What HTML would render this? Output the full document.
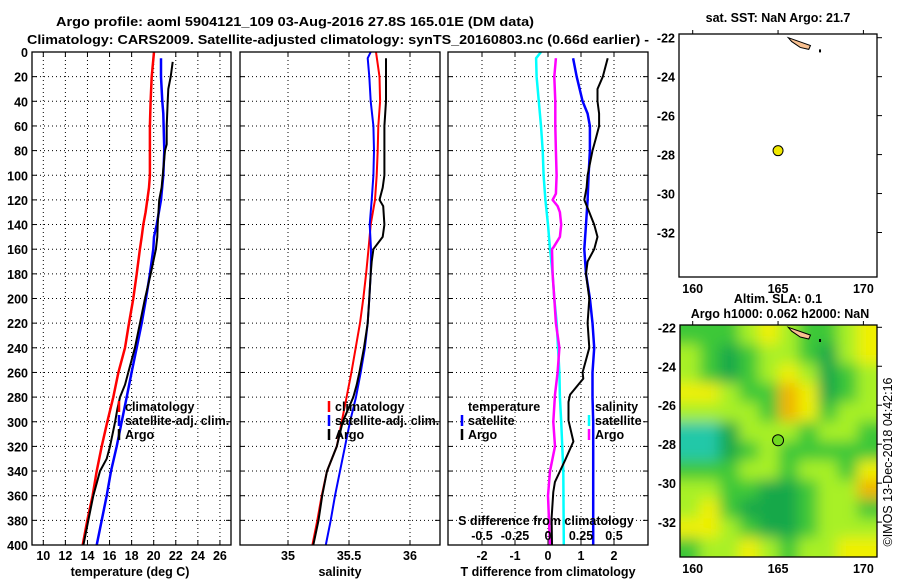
<!DOCTYPE html>
<html><head><meta charset="utf-8"><style>
body{margin:0;background:#fff;}
svg{display:block;font-family:"Liberation Sans",sans-serif;}
text{font-size:12.5px;font-weight:bold;fill:#000;}
</style></head><body>
<svg id="c" width="900" height="580" viewBox="0 0 900 580"></svg>
<script>
// ---- data ----
const tDepth = [0,20,40,60,100,110,120,130,140,150,160,180,200,220,240,260,280,300,320,340,360,380,400];
const tClim  = [20.03,19.82,19.72,19.66,19.66,19.57,19.42,19.27,19.06,18.91,18.75,18.46,18.15,17.76,17.4,16.8,16.34,15.8,15.29,14.84,14.47,13.99,13.57];
const tSatDepth = [5,20,40,50,80,100,120,140,150,160,180,200,220,240,260,280,300,320,340,360,380,400];
const tSat   = [20.66,20.66,20.78,20.87,20.96,20.87,20.66,20.27,20.03,19.96,19.66,19.3,18.91,18.46,18.0,17.55,17.1,16.65,16.13,15.74,15.29,14.84];
const tArgoDepth = [8,20,30,40,60,75,80,95,110,120,140,150,160,180,200,220,240,260,270,280,290,300,320,330,340,360,380,400];
const tArgo  = [21.72,21.54,21.32,21.27,21.18,21.18,21.02,20.87,20.72,20.5,20.36,20.33,20.2,19.73,19.21,18.76,18.3,17.7,17.4,16.95,16.7,16.5,16.04,15.74,15.14,14.53,14.08,13.63];

const sDepth = [0,20,40,60,80,100,120,140,160,180,200,220,240,260,280,300,320,340,360,380,400];
const sClim  = [35.721,35.75,35.755,35.74,35.735,35.727,35.713,35.678,35.66,35.64,35.617,35.59,35.555,35.52,35.48,35.44,35.4,35.32,35.276,35.24,35.2];
const sSatDepth = [0,5,20,40,60,80,100,120,140,160,180,200,220,240,260,280,300,320,340,360,380,400];
const sSat   = [35.678,35.653,35.666,35.678,35.7,35.705,35.7,35.686,35.67,35.68,35.678,35.666,35.653,35.63,35.596,35.557,35.508,35.467,35.426,35.385,35.35,35.31];
const sArgoDepth = [5,40,60,100,110,120,125,140,150,160,170,180,200,220,240,260,270,280,300,320,340,360,380,400];
const sArgo  = [35.803,35.803,35.79,35.79,35.776,35.75,35.78,35.79,35.776,35.7,35.686,35.678,35.666,35.653,35.623,35.585,35.563,35.535,35.448,35.4,35.32,35.28,35.25,35.207];

const dTSatDepth = [5,20,40,50,60,80,100,120,140,160,180,200,220,240,260,280,300,340,400];
const dTSat  = [0.76,0.87,1.05,1.2,1.27,1.27,1.23,1.2,1.15,1.1,1.15,1.27,1.35,1.4,1.35,1.35,1.37,1.37,1.37];
const dTArgoDepth = [5,10,20,30,40,50,60,70,80,100,110,120,130,140,150,160,170,180,200,220,240,260,265,278,284,299,316,331,349,357,378,400];
const dTArgo = [1.81,1.76,1.66,1.5,1.5,1.55,1.55,1.45,1.35,1.2,1.17,1.1,1.25,1.4,1.5,1.4,1.2,1.15,1.25,1.2,1.25,1.05,1.07,0.67,0.62,0.62,0.77,0.52,0.21,0.16,0.11,0.12];
const dSSatDepth = [0,5,20,40,60,80,100,120,140,160,180,200,220,240,260,280,300,340,400];
const dSSat  = [-0.053,-0.09,-0.086,-0.07,-0.053,-0.04,-0.033,-0.02,0,0.015,0.035,0.048,0.066,0.076,0.086,0.09,0.1,0.116,0.12];
const dSArgoDepth = [5,20,40,60,80,100,115,120,125,130,140,150,158,160,180,200,220,240,260,278,300,320,340,360,400];
const dSArgo = [0.06,0.048,0.055,0.055,0.06,0.065,0.06,0.035,0.073,0.09,0.1,0.09,0.045,0.03,0.035,0.048,0.06,0.086,0.073,0.053,0.04,0.053,0.015,0,0.015];

const depthTicks = [0,20,40,60,80,100,120,140,160,180,200,220,240,260,280,300,320,340,360,380,400];
const tTicks = [10,12,14,16,18,20,22,24,26];
const sTicks = [35,35.5,36];
const dTTicks = [-2,-1,0,1,2];
const dSTicks = [-0.5,-0.25,0,0.25,0.5];
const dSTickLabels = ["-0.5","-0.25","0","0.25","0.5"];
const latTicks = [-22,-24,-26,-28,-30,-32];
const lonTicks = [160,165,170];
const floatLon = [165.0];
const floatLat = [-27.8];
// SLA field (class 0..5) rows north->south
const slaGrid = [
 [2,2,2,3,4,3,2,2,3,4],
 [3,2,1,2,3,3,2,1,3,4],
 [3,2,1,2,3,4,3,1,2,3],
 [4,4,3,2,2,5,4,1,2,3],
 [3,3,3,3,2,5,4,2,3,3],
 [0,0,1,3,3,3,2,3,3,2],
 [0,0,1,2,3,2,2,2,2,2],
 [2,2,2,3,3,2,3,3,2,4],
 [3,3,2,2,1,1,2,3,3,5],
 [3,4,2,1,1,1,2,3,3,2],
 [4,4,3,2,1,1,2,3,3,3],
 [2,3,3,4,3,2,3,3,4,4]];
const slaColors = ["#22c8a8","#14a848","#3cc838","#a8f028","#f0f000","#f0b400"];

// ---- helpers ----
const NS="http://www.w3.org/2000/svg";
const svg=document.getElementById('c');
function el(tag,attrs,parent){const e=document.createElementNS(NS,tag);for(const k in attrs)e.setAttribute(k,attrs[k]);(parent||svg).appendChild(e);return e;}
function txt(x,y,s,anchor,parent,extra){const t=el('text',Object.assign({x:x,y:y,'text-anchor':anchor||'middle'},extra||{}),parent);t.textContent=s;return t;}

const yTop=52, yBot=545;
const yD = d => yTop + d*(yBot-yTop)/400;
const P1={x0:32,x1:231}, P2={x0:240,x1:440}, P3={x0:448,x1:648};
const xT = v => 43.3 + (v-10)*11.04;
const xS = v => 288 + (v-35)*122;
const xDT = v => 548 + v*33;
const xDS = v => 548 + v*132;

function panel(P,name,vt,xf){
  const g=el('g',{});
  
  
  el('rect',{x:P.x0,y:yTop,width:P.x1-P.x0,height:yBot-yTop,fill:'#fff',stroke:'none'},g);
  depthTicks.forEach(d=>{const y=yD(d);
    if(d>0&&d<400) el('line',{x1:P.x0,x2:P.x1,y1:y,y2:y,stroke:'#000','stroke-width':1,'stroke-dasharray':'1,3'},g);
    el('line',{x1:P.x0,x2:P.x0+5,y1:y,y2:y,stroke:'#000'},g);
    el('line',{x1:P.x1-5,x2:P.x1,y1:y,y2:y,stroke:'#000'},g);});
  vt.forEach(v=>{const x=xf(v);
    el('line',{x1:x,x2:x,y1:yTop,y2:yBot,stroke:'#000','stroke-dasharray':'1,3'},g);
    el('line',{x1:x,x2:x,y1:yBot-5,y2:yBot,stroke:'#000'},g);
    el('line',{x1:x,x2:x,y1:yTop,y2:yTop+5,stroke:'#000'},g);});
  return g;
}
function line(g,depths,vals,xf,color,w,name){
  const pts=depths.map((d,i)=>xf(vals[i]).toFixed(1)+','+yD(d).toFixed(1)).join(' ');
  const p=el('polyline',{points:pts,fill:'none',stroke:color,'stroke-width':w,'stroke-linejoin':'round'},g);
  
  
}
function border(P,g){el('rect',{x:P.x0,y:yTop,width:P.x1-P.x0,height:yBot-yTop,fill:'none',stroke:'#000','stroke-width':1.3},g);}
function legItem(g,x,y,color,label,name){
  if(color) el('line',{x1:x,x2:x,y1:y-10,y2:y+1,stroke:color,'stroke-width':2.5},g);
  const t=txt(x+6,y,label,'start',g);
  
  
}

// titles
const t1=txt(295,26,"Argo profile: aoml 5904121_109 03-Aug-2016 27.8S 165.01E (DM data)",'middle',svg,{textLength:478,lengthAdjust:'spacingAndGlyphs'});
 
const t2=txt(338,44,"Climatology: CARS2009. Satellite-adjusted climatology: synTS_20160803.nc (0.66d earlier) -",'middle',svg,{textLength:622,lengthAdjust:'spacingAndGlyphs'});
 

// depth labels
depthTicks.forEach(d=>{const t=txt(28,yD(d)+5,String(d),'end');
   });

// panel 1
const g1=panel(P1,'temperature-panel',tTicks,xT);
line(g1,tDepth,tClim,xT,'#ff0000',2.5,'temperature-climatology-line');
line(g1,tSatDepth,tSat,xT,'#0000ff',2.5,'temperature-satellite-line');
line(g1,tArgoDepth,tArgo,xT,'#000',2,'temperature-argo-line');
legItem(g1,119,411,'#ff0000','climatology','legend-climatology');
legItem(g1,119,425,'#0000ff','satellite-adj. clim.','legend-satellite');
legItem(g1,119,439,'#000','Argo','legend-argo');
border(P1,g1);
tTicks.forEach(v=>txt(xT(v),560,String(v)));
txt(130,576,"temperature (deg C)");

// panel 2
const g2=panel(P2,'salinity-panel',sTicks,xS);
line(g2,sDepth,sClim,xS,'#ff0000',2,'salinity-climatology-line');
line(g2,sSatDepth,sSat,xS,'#0000ff',2,'salinity-satellite-line');
line(g2,sArgoDepth,sArgo,xS,'#000',2,'salinity-argo-line');
legItem(g2,329,411,'#ff0000','climatology','legend-climatology');
legItem(g2,329,425,'#0000ff','satellite-adj. clim.','legend-satellite');
legItem(g2,329,439,'#000','Argo','legend-argo');
border(P2,g2);
sTicks.forEach(v=>txt(xS(v),560,String(v)));
txt(340,576,"salinity");

// panel 3
const g3=panel(P3,'difference-panel',dTTicks,xDT);
line(g3,dSSatDepth,dSSat,xDS,'#00ffff',2.5,'salinity-satellite-diff-line');
line(g3,dSArgoDepth,dSArgo,xDS,'#ff00ff',2.5,'salinity-argo-diff-line');
line(g3,dTSatDepth,dTSat,xDT,'#0000ff',2.5,'temperature-satellite-diff-line');
line(g3,dTArgoDepth,dTArgo,xDT,'#000',2,'temperature-argo-diff-line');
legItem(g3,462,411,null,'temperature','legend-temperature');
legItem(g3,462,425,'#0000ff','satellite','legend-t-satellite');
legItem(g3,462,439,'#000','Argo','legend-t-argo');
legItem(g3,589,411,null,'salinity','legend-salinity');
legItem(g3,589,425,'#00ffff','satellite','legend-s-satellite');
legItem(g3,589,439,'#ff00ff','Argo','legend-s-argo');
txt(546,525,"S difference from climatology");
dSTicks.forEach((v,i)=>txt(xDS(v),540,dSTickLabels[i]));
border(P3,g3);
dTTicks.forEach(v=>txt(xDT(v),560,String(v)));
txt(548,576,"T difference from climatology");

// maps
function mapFrame(M,name){
  const g=el('g',{});
  
  
  M.xf=lon=>692.7+(lon-160)*17.07;
  M.yf=lat=>M.y22+(-22-lat)*19.48;
  return g;
}
function mapAxes(M,g){
  el('rect',{x:M.x0,y:M.y0,width:M.x1-M.x0,height:M.y1-M.y0,fill:'none',stroke:'#000','stroke-width':1.3},g);
  latTicks.forEach(v=>{const y=M.yf(v);
    el('line',{x1:M.x1,x2:M.x1+5,y1:y,y2:y,stroke:'#000'},g);
    txt(M.x0-4,y+5,String(v),'end',g);});
  lonTicks.forEach(v=>{const x=M.xf(v);
    el('line',{x1:x,x2:x,y1:M.y0-4,y2:M.y0,stroke:'#000'},g);
    txt(x,M.y1+16,String(v),'middle',g);});
}
function land(M,g){
  const pts=[[165.6,-22.0],[166.9,-22.4],[166.8,-22.6],[166.3,-22.5],[165.8,-22.2]].map(p=>M.xf(p[0])+','+M.yf(p[1])).join(' ');
  el('polygon',{points:pts,fill:'#f8c090',stroke:'#000','stroke-width':1},g);
  el('rect',{x:M.xf(167.4),y:M.yf(-22.6),width:2,height:3,fill:'#000'},g);
}
const M1={x0:679,x1:877,y0:34,y1:277,y22:37.7};
const gm1=mapFrame(M1,'sst-map');
txt(778,22,"sat. SST: NaN Argo: 21.7",'middle',gm1);
land(M1,gm1);
floatLon.forEach((lo,i)=>{const c=el('circle',{cx:M1.xf(lo),cy:M1.yf(floatLat[i]),r:5,fill:'#f0e800',stroke:'#000'},gm1);
   });
mapAxes(M1,gm1);

const M2={x0:680,x1:877,y0:325,y1:557,y22:327.3};
const gm2=mapFrame(M2,'sla-map');
txt(778,303,"Altim. SLA: 0.1",'middle',gm2);
txt(780,318,"Argo h1000: 0.062 h2000: NaN",'middle',gm2);
const defs=el('defs',{});
const cp=el('clipPath',{id:'mclip'},defs);
el('rect',{x:M2.x0,y:M2.y0,width:M2.x1-M2.x0,height:M2.y1-M2.y0},cp);
const f=el('filter',{id:'blur',x:'-10%',y:'-10%',width:'120%',height:'120%'},defs);
el('feGaussianBlur',{stdDeviation:7},f);
const hg=el('g',{'clip-path':'url(#mclip)'},gm2);
const hb=el('g',{filter:'url(#blur)'},hg);
const nr=slaGrid.length, nc=slaGrid[0].length;
const cw=(M2.x1-M2.x0)/nc, ch=(M2.y1-M2.y0)/nr;
slaGrid.forEach((row,r)=>row.forEach((v,c)=>{
  const rc=el('rect',{x:M2.x0+c*cw-(c==0?20:0),y:M2.y0+r*ch-(r==0?20:0),width:cw+1+(c==0||c==nc-1?20:0),height:ch+1+(r==0||r==nr-1?20:0),fill:slaColors[v]},hb);
  
  
}));
land(M2,gm2);
floatLon.forEach((lo,i)=>{const c=el('circle',{cx:M2.xf(lo),cy:M2.yf(floatLat[i]),r:5.5,fill:'#70d820',stroke:'#000'},gm2);
   });
mapAxes(M2,gm2);

const cr=txt(0,0,"©IMOS 13-Dec-2018 04:42:16",'middle',svg,{transform:'translate(892,462) rotate(-90)',style:'font-weight:normal;font-size:12.5px'});
 
</script>
</body></html>
